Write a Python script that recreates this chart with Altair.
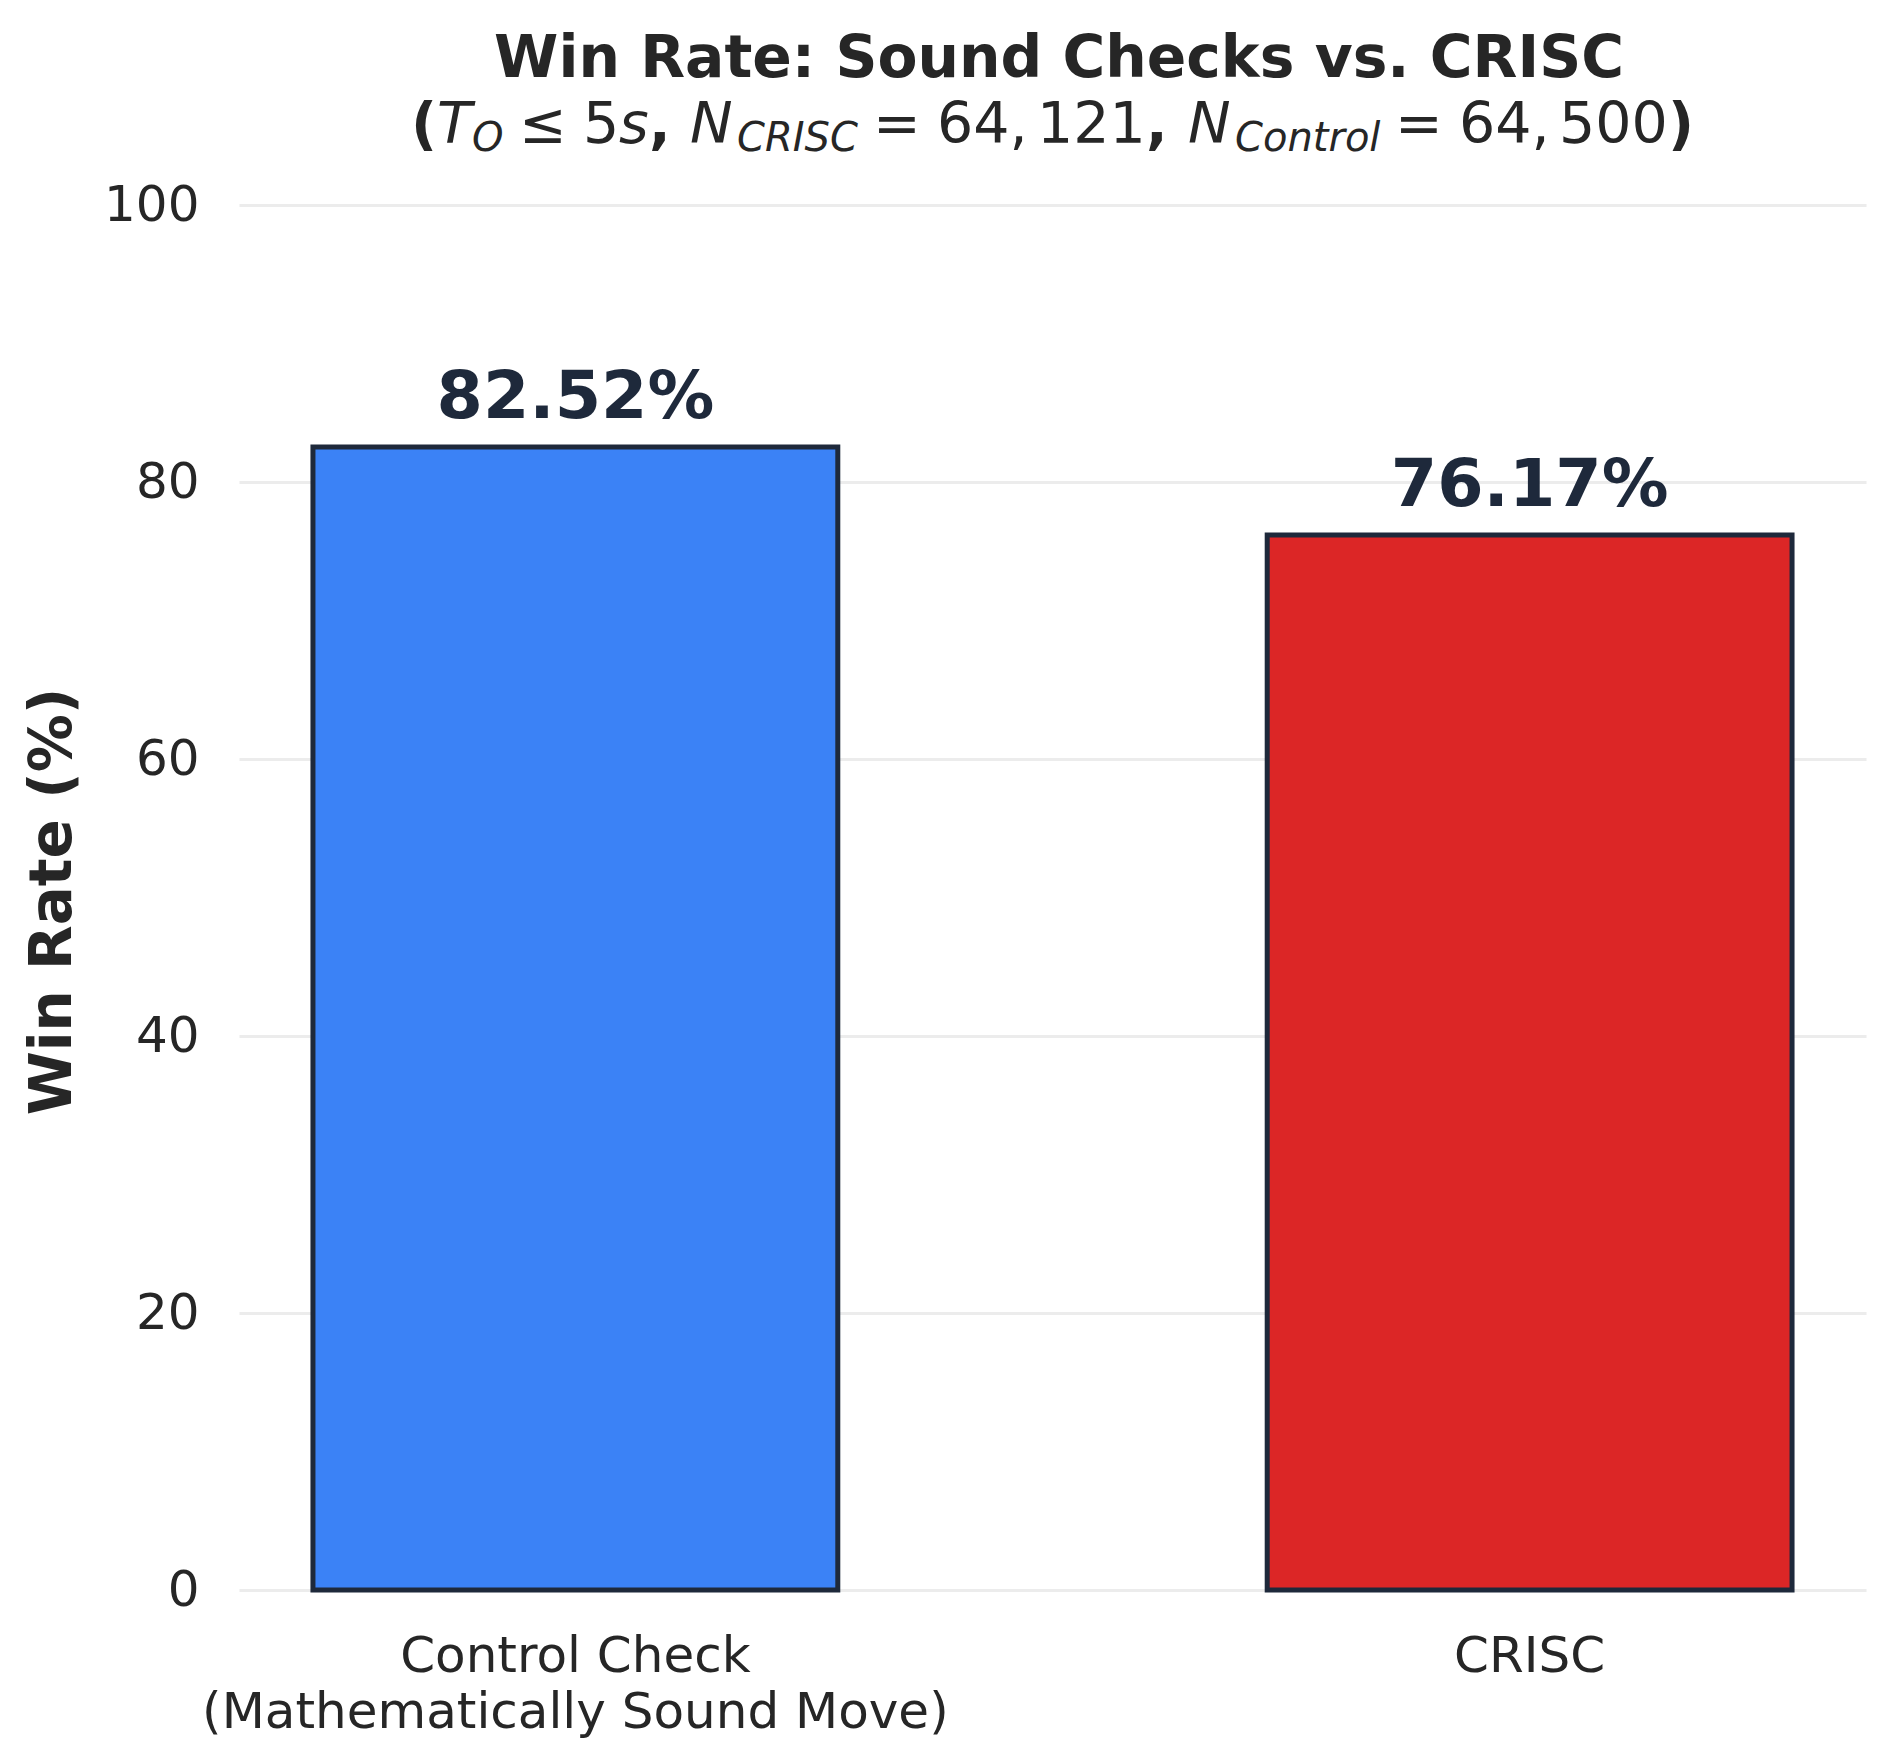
import altair as alt
import pandas as pd

# data
categories = ["Control Check|(Mathematically Sound Move)", "CRISC"]
win_rates = [82.52, 76.17]
bar_colors = ["#3b82f6", "#dc2626"]
y_ticks = [0, 20, 40, 60, 80, 100]

title_line1 = "Win Rate: Sound Checks vs. CRISC"
# second title line, written piece by piece so the subscripts can be smaller
sub_texts = ["(", "T", "O", "\u2264", "5", "s", ",", "N", "CRISC", "=", "64,", "121",
             ",", "N", "Control", "=", "64,", "500", ")"]
sub_styles = ["bold", "ital", "sub", "reg", "reg", "ital", "bold", "ital", "sub", "reg", "reg", "reg",
              "bold", "ital", "sub", "reg", "reg", "reg", "bold"]
# left edge of each piece, in page pixels
sub_left = [411, 437, 472, 519, 583, 619, 649, 690, 737, 873, 937, 1037,
            1146, 1188, 1235, 1395, 1459, 1559, 1668]

W, H = 1627, 1385
LEFT, TOP = 239, 205
FONT = "DejaVu Sans"
INK = "#262626"
EDGE = "#1e293b"

df = pd.DataFrame({"group": categories, "rate": win_rates})

x_enc = alt.X(
    "group:N", sort=categories,
    scale=alt.Scale(paddingInner=0.45, paddingOuter=0.0775),
    axis=alt.Axis(title=None, labelExpr="split(datum.label, '|')", labelAngle=0, labelLimit=0,
                  labelFont=FONT, labelFontSize=50, labelColor=INK, labelBaseline="top",
                  labelPadding=41, labelLineHeight=56, ticks=False, domain=False, grid=False),
)
y_enc = alt.Y(
    "rate:Q", scale=alt.Scale(domain=[0, 100]),
    axis=alt.Axis(values=y_ticks, title="Win Rate (%)", labelFont=FONT, labelFontSize=50,
                  labelColor=INK, labelPadding=40, ticks=False, domain=False,
                  grid=True, gridColor="#ececec", gridWidth=3,
                  titleFont=FONT, titleFontSize=58, titleFontWeight="bold", titleColor=INK,
                  titleAngle=270, titleAlign="center", titleBaseline="alphabetic",
                  titleX=70 - LEFT, titleY=901 - TOP),
)

bars = alt.Chart(df).mark_bar(stroke=EDGE, strokeWidth=5).encode(
    x=x_enc,
    y=y_enc,
    color=alt.Color("group:N", scale=alt.Scale(domain=categories, range=bar_colors), legend=None),
)

values = alt.Chart(df).transform_calculate(
    label="format(datum.rate, '.2f') + '%'"
).mark_text(font=FONT, fontSize=66.7, fontWeight="bold", color=EDGE,
            baseline="alphabetic", dy=-29).encode(
    x=alt.X("group:N", sort=categories),
    y=alt.Y("rate:Q"),
    text="label:N",
)

layers = [bars, values]

title1 = alt.Chart(pd.DataFrame({"t": [title_line1]})).mark_text(
    font=FONT, fontSize=58.3, fontWeight="bold", color=INK, align="center", baseline="alphabetic"
).encode(x=alt.value(1059 - LEFT), y=alt.value(77 - TOP), text="t:N")
layers.append(title1)

for txt, style, px in zip(sub_texts, sub_styles, sub_left):
    opts = dict(font=FONT, color=INK, align="left", baseline="alphabetic", fontSize=57)
    base_y = 143
    if style == "bold":
        opts["fontWeight"] = "bold"
    elif style == "ital":
        opts["fontStyle"] = "italic"
    elif style == "sub":
        opts["fontStyle"] = "italic"
        opts["fontSize"] = 40
        base_y = 151
    layers.append(
        alt.Chart(pd.DataFrame({"t": [txt]})).mark_text(**opts).encode(
            x=alt.value(px - LEFT), y=alt.value(base_y - TOP), text="t:N")
    )

chart = alt.layer(*layers).properties(
    width=W, height=H,
    autosize=alt.AutoSizeParams(type="none"),
    padding={"left": LEFT - 8, "top": TOP - 8, "right": 1896 - 8 - LEFT - W, "bottom": 1764 - 8 - TOP - H},
    background="white",
).configure_view(strokeWidth=0)

chart.save("out.html", embed_options={"renderer": "svg", "actions": False})
